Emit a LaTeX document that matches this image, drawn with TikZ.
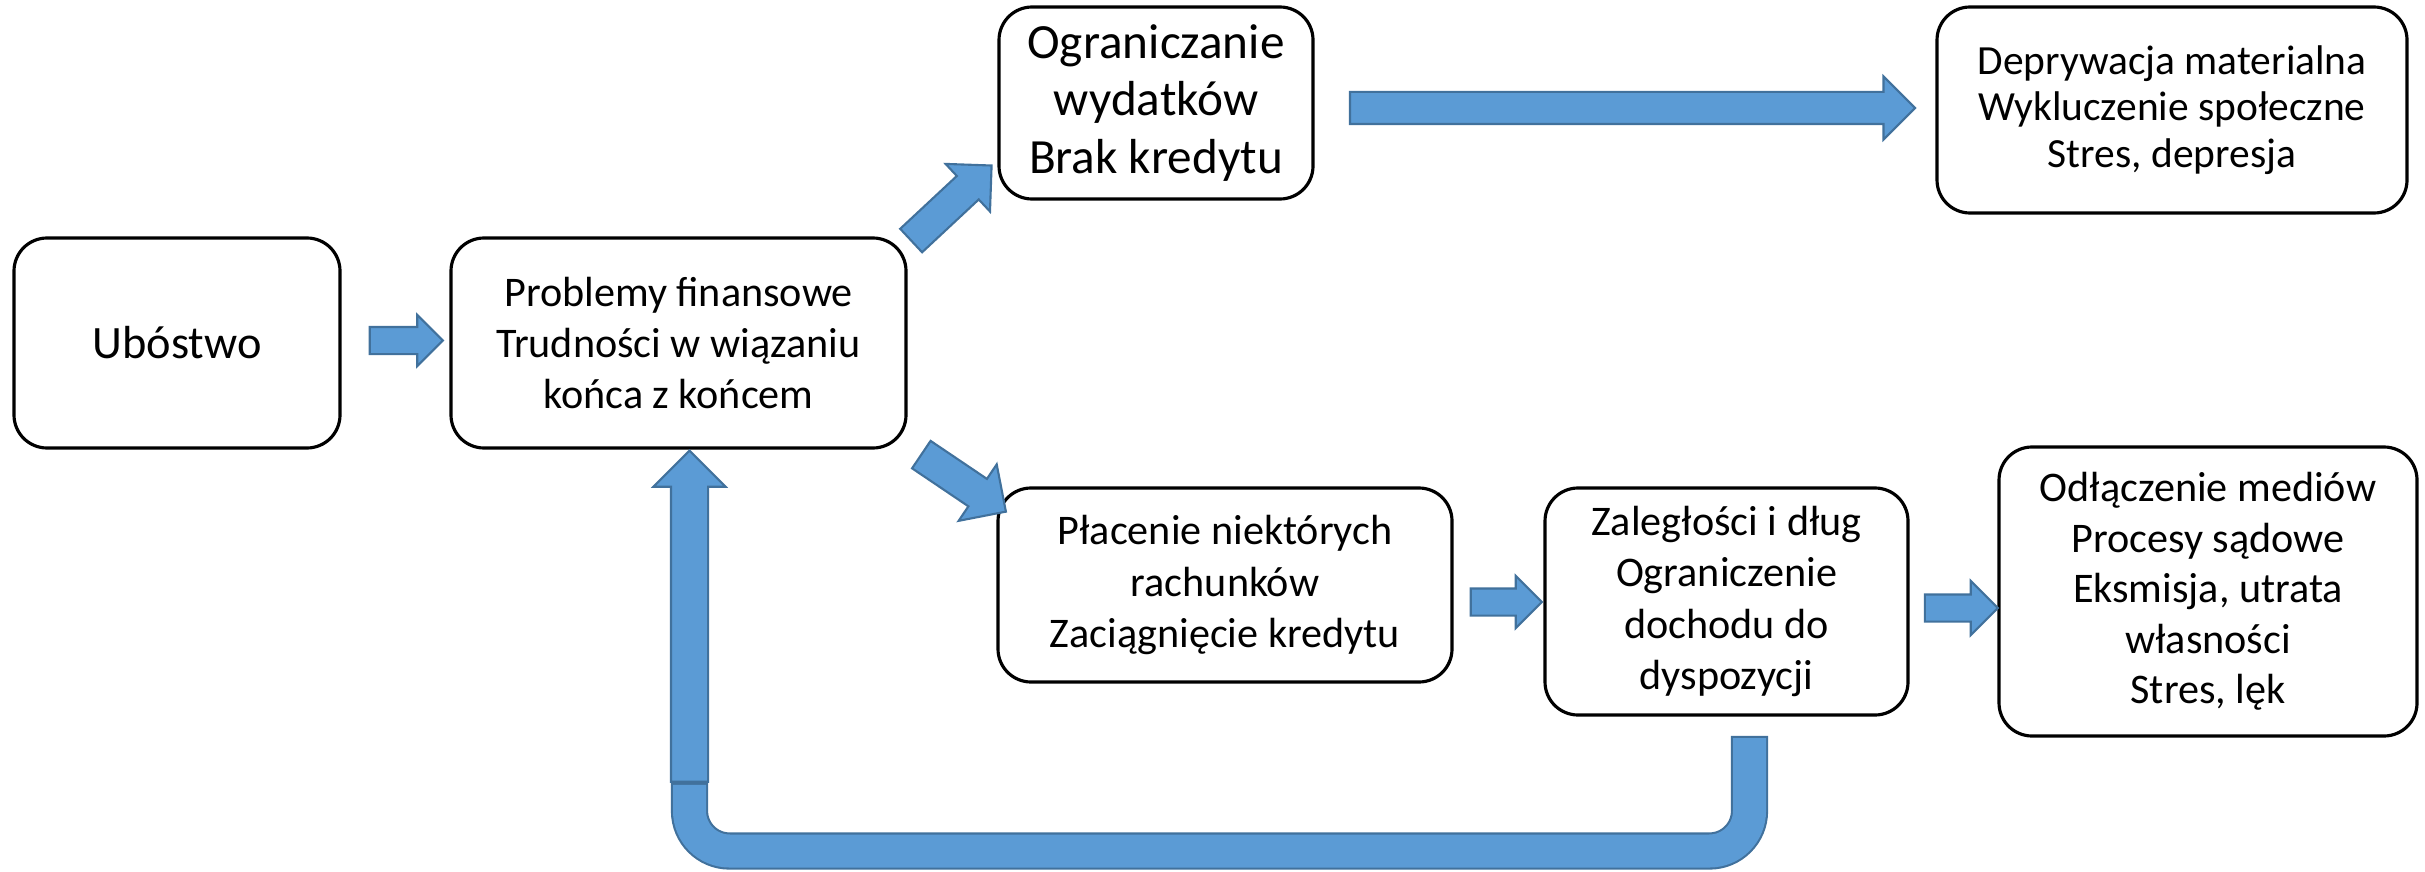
\documentclass[tikz,border=0pt]{standalone}
\usepackage{fontspec}
\setmainfont{Carlito}
\usetikzlibrary{shapes.arrows,calc}
\definecolor{arrowblue}{HTML}{5B9BD5}
\definecolor{arrowedge}{HTML}{41719C}
\tikzset{
	box/.style={draw=black, line width=0.9pt, rounded corners=0.33cm, align=center, inner sep=0, font=\fontsize{12}{14.6}\selectfont},
	barrow/.style={single arrow, draw=arrowedge, fill=arrowblue, line width=0.6pt, inner xsep=0, minimum width=0pt},
	backline/.style={draw=arrowedge, double=arrowblue, line width=0.6pt, double distance=0.33cm, line cap=rect, rounded corners=0.4cm}
}
\begin{document}
\begin{tikzpicture}
		\useasboundingbox (0,0) rectangle (24.25,-8.72);
		\node [box, minimum width=3.26cm, minimum height=2.10cm, font=\fontsize{13.2}{15}\selectfont] (ubostwo) at (1.77,-3.43) {Ubóstwo};
		\node [box, minimum width=4.55cm, minimum height=2.10cm] (problemy) at (6.785,-3.43) {Problemy finansowe\\Trudności w wiązaniu\\końca z końcem};
		\node [box, minimum width=3.14cm, minimum height=1.92cm, font=\fontsize{14}{16.4}\selectfont] (ogr) at (11.56,-1.03) {Ograniczanie\\wydatków\\Brak kredytu};
		\node [box, minimum width=4.70cm, minimum height=2.06cm, font=\fontsize{11.8}{13.2}\selectfont] (depr) at (21.72,-1.10) {Deprywacja materialna\\Wykluczenie społeczne\\Stres, depresja};
		\node [box, minimum width=4.54cm, minimum height=1.94cm] (placenie) at (12.25,-5.85) {Płacenie niektórych\\rachunków\\Zaciągnięcie kredytu};
		\node [box, minimum width=3.63cm, minimum height=2.27cm] (zaleg) at (17.265,-6.015) {Zaległości i dług\\Ograniczenie\\dochodu do\\dyspozycji};
		\node [box, minimum width=4.18cm, minimum height=2.89cm, font=\fontsize{12}{14.4}\selectfont] (odlacz) at (22.08,-5.915) {Odłączenie mediów\\Procesy sądowe\\Eksmisja, utrata\\własności\\Stres, lęk};
		\node [barrow, minimum height=0.73cm, inner ysep=0.125cm, single arrow head extend=0.12cm] (toprob) at (3.995,-3.405) {};
		\node [barrow, rotate=43, minimum height=1.10cm, inner ysep=0.15cm, single arrow head extend=0.165cm] (toogr) at (9.455,-2.085) {};
		\node [barrow, rotate=-34, minimum height=1.02cm, inner ysep=0.155cm, single arrow head extend=0.175cm] (toplac) at (9.5675,-4.785) {};
		\node [barrow, minimum height=5.65cm, inner ysep=0.15cm, single arrow head extend=0.155cm] (todepr) at (16.245,-1.08) {};
		\node [barrow, minimum height=0.71cm, inner ysep=0.125cm, single arrow head extend=0.125cm] (tozaleg) at (14.995,-6.02) {};
		\node [barrow, minimum height=0.73cm, inner ysep=0.125cm, single arrow head extend=0.135cm] (toodlacz) at (19.545,-6.08) {};
		\node [barrow, rotate=90, minimum height=3.31cm, inner ysep=0.175cm, single arrow head extend=0.175cm] (back) at (6.895,-6.255) {};
		\coordinate (loopstart) at (17.495,-7.545);
		\draw [backline] (loopstart) -- ++(0,-0.965) -| ($(back.west)+(0,-0.186)$);
	\end{tikzpicture}
\end{document}
